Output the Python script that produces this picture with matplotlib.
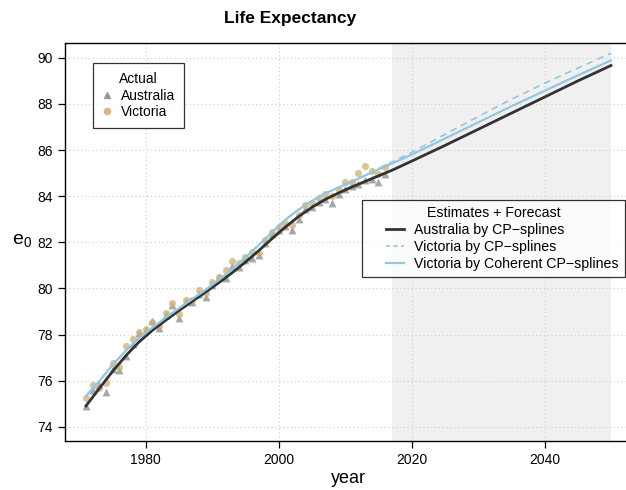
import numpy as np
import matplotlib.pyplot as plt
from matplotlib.lines import Line2D
from matplotlib.legend_handler import HandlerLine2D

plt.rcParams['font.family'] = ['Liberation Sans', 'DejaVu Sans']

# Observed life expectancy at birth
years = np.arange(1971, 2017)
aus_obs = [74.9, 75.6, 75.8, 75.52, 76.5, 76.46, 77.06, 77.6, 78.05, 78.2,
           78.6, 78.3, 78.85, 79.3, 78.7, 79.45, 79.4, 79.75, 79.63, 80.15,
           80.5, 80.47, 80.96, 80.93, 81.25, 81.3, 81.44, 81.95, 82.35, 82.55,
           82.7, 82.55, 83.0, 83.45, 83.55, 83.76, 83.9, 83.7, 84.1, 84.3,
           84.45, 84.55, 84.72, 84.73, 84.62, 84.95]
vic_obs = [75.26, 75.8, 75.7, 75.9, 76.77, 76.6, 77.5, 77.8, 78.1, 78.26,
           78.55, 78.35, 78.94, 79.35, 78.9, 79.5, 79.5, 79.95, 79.8, 80.28,
           80.5, 80.82, 81.19, 81.1, 81.37, 81.58, 81.55, 82.12, 82.45, 82.67,
           82.84, 82.75, 83.17, 83.6, 83.7, 83.94, 84.08, 84.0, 84.29, 84.62,
           84.62, 85.0, 85.3, 85.09, 84.98, 85.27]

# Fitted + forecast curves
fit_years = [1971, 1973, 1975, 1977, 1979, 1981, 1983, 1985, 1987, 1989,
             1991, 1993, 1995, 1997, 1999, 2001, 2003, 2005, 2007, 2009,
             2011, 2013, 2015, 2017, 2020, 2025, 2030, 2035, 2040, 2045, 2050]
aus_cp = [74.90, 75.66, 76.40, 77.08, 77.68, 78.18, 78.62, 79.04, 79.44, 79.84,
          80.25, 80.68, 81.14, 81.64, 82.16, 82.66, 83.12, 83.52, 83.86, 84.14,
          84.40, 84.64, 84.88, 85.12, 85.52, 86.20, 86.90, 87.60, 88.30, 89.00,
          89.67]
vic_cp = [75.33, 75.98, 76.68, 77.30, 77.85, 78.30, 78.73, 79.14, 79.54, 79.94,
          80.37, 80.84, 81.34, 81.88, 82.44, 82.98, 83.42, 83.80, 84.12, 84.38,
          84.63, 84.90, 85.20, 85.48, 85.90, 86.68, 87.45, 88.20, 88.90, 89.56,
          90.20]
vic_coh = [75.33, 75.98, 76.68, 77.30, 77.85, 78.30, 78.73, 79.14, 79.54, 79.94,
           80.37, 80.84, 81.34, 81.88, 82.44, 82.98, 83.42, 83.80, 84.12, 84.38,
           84.63, 84.90, 85.16, 85.41, 85.80, 86.50, 87.20, 87.90, 88.57, 89.24,
           89.89]

forecast_start, forecast_end = 2017, 2050

grey = '#8a8a8a'
tan = '#cfae74'
black = '#333333'
blue = '#93c6df'


class InsetLine(HandlerLine2D):
    """Line handle drawn only in the right half of its slot."""
    def create_artists(self, legend, orig_handle, xdescent, ydescent,
                       width, height, fontsize, trans):
        shift = width * 0.5
        return super().create_artists(legend, orig_handle, xdescent - shift,
                                      ydescent, width - shift, height,
                                      fontsize, trans)


fig = plt.figure(figsize=(6.26, 4.90), dpi=100)
ax = fig.add_axes([0.1038, 0.1, 0.9058, 0.8129])

ax.axvspan(forecast_start, forecast_end, color='#f0f0f0', lw=0, zorder=0)

ax.scatter(years, aus_obs, marker='^', s=32, color=grey, alpha=0.75,
           lw=0, zorder=2)
ax.scatter(years, vic_obs, marker='o', s=26, color=tan, alpha=0.75,
           lw=0, zorder=2)

ax.plot(fit_years, aus_cp, color=black, lw=2.0, zorder=3)
ax.plot(fit_years, vic_cp, color=blue, lw=1.2, ls=(0, (4, 3)), zorder=3)
ax.plot(fit_years, vic_coh, color=blue, lw=1.6, zorder=3)

ax.set_xlim(1967.84, 2053.16)
ax.set_ylim(73.38, 90.66)
ax.set_xticks([1980, 2000, 2020, 2040])
ax.set_yticks(np.arange(74, 91, 2))
ax.tick_params(labelsize=10, length=5, width=0.9, color='black')
ax.grid(True, ls=(0, (1, 2.5)), color='#cccccc', lw=0.8, zorder=1)
ax.set_axisbelow(True)
for sp in ax.spines.values():
    sp.set_linewidth(1.0)

ax.set_xlabel('year', fontsize=13, labelpad=2)
fig.text(22 / 626, 1 - 240 / 490, r'$\mathregular{e_0}$', fontsize=14,
         ha='center', va='center')
fig.text(290 / 626, 1 - 18 / 490, 'Life Expectancy', fontsize=12.5,
         fontweight='bold', ha='center', va='center')

# Legend for observed data
obs_handles = [
    Line2D([], [], marker='^', ls='none', color='#999999', markersize=5),
    Line2D([], [], marker='o', ls='none', color='#d9b887', markersize=4.5),
]
leg1 = ax.legend(obs_handles, ['Australia', 'Victoria'], title='Actual',
                 loc='upper left', bbox_to_anchor=(0.05, 0.948),
                 fontsize=10, title_fontsize=10, frameon=True, fancybox=False,
                 edgecolor='black', handlelength=0.8, handletextpad=0.6,
                 borderpad=0.6, labelspacing=0.2, borderaxespad=0)
leg1.get_frame().set_linewidth(0.9)
ax.add_artist(leg1)

# Legend for estimates and forecasts
fit_handles = [
    Line2D([], [], color=black, lw=2.0),
    Line2D([], [], color=blue, lw=1.2, ls=(0, (2.5, 2))),
    Line2D([], [], color=blue, lw=1.6),
]
leg2 = ax.legend(fit_handles, ['Australia by CP\u2212splines',
                               'Victoria by CP\u2212splines',
                               'Victoria by Coherent CP\u2212splines'],
                 title='Estimates + Forecast', loc='upper left',
                 bbox_to_anchor=(0.524, 0.605), fontsize=10.2,
                 title_fontsize=10.2, frameon=True, fancybox=False,
                 edgecolor='black', handlelength=2.5, handletextpad=0.7,
                 borderpad=0.45, labelspacing=0.2, borderaxespad=0,
                 handler_map={Line2D: InsetLine()})
leg2.get_frame().set_linewidth(0.9)

fig.savefig('out.png', dpi=100)
